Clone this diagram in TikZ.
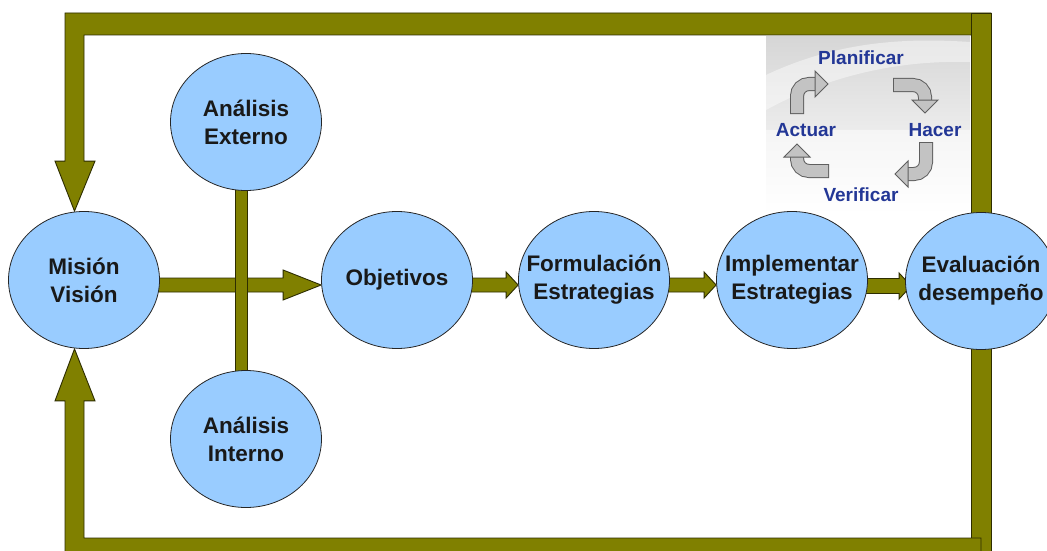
\documentclass[tikz,border=0pt]{standalone}
\usepackage{fontspec}
\setmainfont{Liberation Sans}
\usetikzlibrary{shapes.geometric,calc}
\definecolor{olivebar}{RGB}{128,128,0}
\definecolor{olivedark}{RGB}{45,45,0}
\definecolor{circfill}{RGB}{153,204,255}
\definecolor{pdcablue}{RGB}{35,55,150}
\definecolor{arrgray}{RGB}{195,195,195}
\definecolor{arrdark}{RGB}{95,95,95}
\pgfdeclarelayer{bg}
\pgfsetlayers{bg,main}
\newcommand\cl[1]{\makebox[0pt]{#1}}
\tikzset{
  circ/.style={ellipse, draw=black!85, line width=0.8pt, fill=circfill,
    minimum width=151pt, minimum height=137pt, inner sep=0pt, align=center,
    text width=60pt, font=\fontsize{22.5}{28}\selectfont\bfseries, text=black!90},
  fatbar/.style={fill=olivebar, draw=olivedark, line width=0.9pt, line join=miter},
  pdcalabel/.style={font=\fontsize{19}{22}\selectfont\bfseries, text=pdcablue, inner sep=0pt},
  shaftout/.style={line width=14pt, draw=arrdark, rounded corners=12pt},
  shaftin/.style={line width=12pt, draw=arrgray, rounded corners=12pt, shorten <=1pt},
  headtip/.style={fill=arrgray, draw=arrdark, line width=1pt, line join=miter},
}
\newcommand\hfat[5]{%
  \path[fatbar] let \p1=(#1), \p2=(#2) in
    (\x1,\y2+#3) -- (\x2-#5,\y2+#3) -- (\x2-#5,\y2+#4) -- (\x2,\y2)
    -- (\x2-#5,\y2-#4) -- (\x2-#5,\y2-#3) -- (\x1,\y2-#3) -- cycle;}
\begin{document}
\begin{tikzpicture}[x=1pt,y=-1pt]
\useasboundingbox (0,0) rectangle (1047,551);
\clip (0,0) rectangle (1047,551);

% circles
\node[circ] (mis)  at (84,280)  {\cl{Misión}\\\cl{Visión}};
\node[circ] (ext)  at (246,122) {\cl{Análisis}\\\cl{Externo}};
\node[circ] (int)  at (246,439) {\cl{Análisis}\\\cl{Interno}};
\node[circ] (obj)  at (397,280) {\cl{Objetivos}};
\node[circ] (form) at (594,280) {\cl{Formulación}\\\cl{Estrategias}};
\node[circ] (impl) at (792,280) {\cl{Implementar}\\\cl{Estrategias}};
\node[circ] (eva)  at (981,281) {\cl{Evaluación}\\\cl{desempeño}};

% PDCA labels
\node[pdcalabel] (plan)   at (861,58)  {Planificar};
\node[pdcalabel] (hacer)  at (935,130) {Hacer};
\node[pdcalabel] (actuar) at (806,130) {Actuar};
\node[pdcalabel] (verif)  at (861,195) {Verificar};

\begin{pgfonlayer}{bg}
  \fill[white] (0,0) rectangle (1047,551);
  % PDCA panel
  \shade[top color=gray!32, bottom color=white] (766,37) rectangle (970,213);
  \fill[white, opacity=0.45] (766,75) .. controls (840,40) and (910,38) .. (970,42)
     -- (970,62) .. controls (900,60) and (830,75) .. (766,110) -- cycle;
  \fill[white, opacity=0.5] (766,130) rectangle (970,213);
  % PDCA arrows
  \draw[shaftout] (797,114) -- (797,84) -- (816,84);
  \draw[shaftin]  (797,114) -- (797,84) -- (816,84);
  \path[headtip] (815,71) -- (828,84) -- (815,97) -- cycle;
  \draw[shaftout] (893,85) -- (925,85) -- (925,101);
  \draw[shaftin]  (893,85) -- (925,85) -- (925,101);
  \path[headtip] (912,100) -- (925,113) -- (938,100) -- cycle;
  \draw[shaftout] (926,142) -- (926,174) -- (908,174);
  \draw[shaftin]  (926,142) -- (926,174) -- (908,174);
  \path[headtip] (908,161) -- (895,174) -- (908,187) -- cycle;
  \draw[shaftout] (829,171) -- (797,171) -- (797,157);
  \draw[shaftin]  (829,171) -- (797,171) -- (797,157);
  \path[headtip] (784,157) -- (797,144) -- (810,157) -- cycle;

  % frame: top loop back to Mision
  \path[fatbar] let \p1=($(mis.north)+(-9.5,0)$), \p2=(eva.north) in
    (\x2+10pt,-13pt) -- (\x1-9.5pt,-13pt) -- (\x1-9.5pt,\y1+50pt) -- (\x1-19.5pt,\y1+50pt)
    -- (\x1,\y1) -- (\x1+20.5pt,\y1+50pt) -- (\x1+9.5pt,\y1+50pt) -- (\x1+9.5pt,-35pt)
    -- (\x2+10pt,-35pt) -- cycle;
  \path[fatbar] let \p2=(eva.north) in (\x2-10pt,-13pt) rectangle (\x2+10pt,\y2-5pt);
  % frame: bottom loop back to Mision
  \path[fatbar] let \p2=(eva.south) in (\x2-10pt,\y2+5pt) rectangle (\x2+10pt,-565pt);
  \path[fatbar] let \p1=($(mis.south)+(-9.5,0)$), \p2=(eva.south) in
    (\x2,-538pt) -- (\x1+9.5pt,-538pt) -- (\x1+9.5pt,\y1-52pt) -- (\x1+20.5pt,\y1-52pt)
    -- (\x1,\y1) -- (\x1-19.5pt,\y1-52pt) -- (\x1-9.5pt,\y1-52pt) -- (\x1-9.5pt,-565pt)
    -- (\x2,-565pt) -- cycle;

  % main flow arrows
  \hfat{mis.center}{$(obj.west)+(0,5)$}{7pt}{15pt}{38pt}
  \hfat{obj.center}{$(form.west)+(0,5)$}{7pt}{13pt}{12pt}
  \hfat{form.center}{$(impl.west)+(0,5)$}{7pt}{13pt}{12pt}
  \hfat{impl.center}{$(eva.west)+(6,5)$}{7.5pt}{13pt}{12pt}
  % vertical bar between the analyses
  \path[fatbar] let \p1=($(ext.center)+(-5,0)$), \p2=($(int.center)+(-5,0)$) in
    (\x1-6pt,\y1) rectangle (\x2+6pt,\y2);
\end{pgfonlayer}
\end{tikzpicture}
\end{document}
